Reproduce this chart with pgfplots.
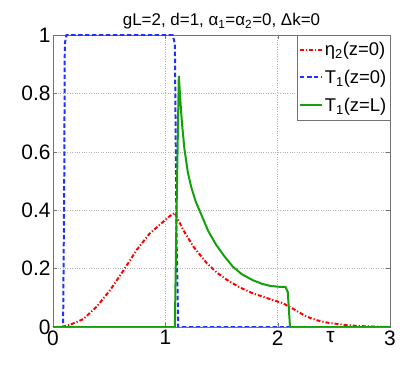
\documentclass[border=0pt]{standalone}
\usepackage{fontspec}
\setmainfont{Liberation Sans}
\usepackage{pgfplots}
\pgfplotsset{compat=1.18}

\definecolor{mred}{RGB}{255,0,0}
\definecolor{mblue}{RGB}{30,50,255}
\definecolor{mgreen}{RGB}{20,160,10}

\begin{document}
\begin{tikzpicture}
\begin{axis}[
  scale only axis,
  width=337bp, height=292bp,
  xmin=0, xmax=3, ymin=0, ymax=1,
  xtick={0,1,2,3},
  ytick={0,0.2,0.4,0.6,0.8,1},
  yticklabels={0,0.2,0.4,0.6,0.8,1},
  /pgf/number format/assume math mode=true,
  tick label style={font=\fontsize{21}{23}\selectfont},
  xticklabel style={yshift=0bp},
  yticklabel style={xshift=1bp},
  tick align=inside,
  major tick length=4bp,
  axis line style={black!55, line width=0.8pt},
  tick style={black!55},
  grid=major,
  grid style={dotted, black!30},
  title={gL=2, d=1, α\textsubscript{1}=α\textsubscript{2}=0, Δk=0},
  title style={font=\fontsize{17}{19}\selectfont, yshift=-4bp},
  xlabel={τ},
  xlabel style={at={(axis cs:2.47,0)}, anchor=north, yshift=-1bp,
    font=\fontsize{21}{23}\selectfont},
  legend style={at={(1,1)}, anchor=north east, draw=black!55,
    font=\fontsize{18.5}{20}\selectfont, row sep=9bp,
    inner xsep=1.5bp, inner ysep=5bp},
  legend cell align=left,
  legend image post style={xscale=1.3},
]
\addplot[mred, line width=2pt, dash pattern=on 4pt off 2pt on 1.2pt off 2pt] coordinates {
(0,0) (0.06,0) (0.1,0.002) (0.167,0.01) (0.27,0.027) (0.39,0.07) (0.51,0.127)
(0.63,0.195) (0.745,0.264) (0.86,0.32) (0.98,0.36) (1.04,0.38) (1.085,0.39)
(1.11,0.37) (1.16,0.332) (1.25,0.275) (1.37,0.218) (1.46,0.186) (1.55,0.161)
(1.66,0.136) (1.78,0.115) (1.92,0.097) (2.05,0.081) (2.1,0.07) (2.14,0.062)
(2.2,0.048) (2.26,0.035) (2.35,0.023) (2.44,0.015) (2.6,0.007) (2.73,0.003)
(2.9,0.001) (3,0)};
\addlegendentry{η\textsubscript{2}(z=0)}
\addplot[mblue, line width=2pt, dash pattern=on 4.5pt off 2.5pt] coordinates {
(0,0) (0.09,0) (0.1,0.5) (0.105,0.97) (0.12,1) (1.065,1) (1.085,0.97)
(1.1,0.3) (1.115,0) (3,0)};
\addlegendentry{T\textsubscript{1}(z=0)}
\addplot[mgreen, line width=2pt] coordinates {
(0,0) (1.085,0) (1.1,0.4) (1.12,0.86) (1.13,0.80) (1.14,0.74) (1.15,0.69)
(1.17,0.61) (1.2,0.53) (1.23,0.48) (1.27,0.43) (1.32,0.385) (1.38,0.33)
(1.45,0.283) (1.52,0.245) (1.6,0.207) (1.68,0.181) (1.78,0.16) (1.86,0.148)
(1.93,0.141) (2.0,0.138) (2.07,0.137) (2.09,0.12) (2.11,0) (3,0)};
\addlegendentry{T\textsubscript{1}(z=L)}
\end{axis}
\path (current axis.south west) ++(-53bp,-40bp) rectangle
  ([xshift=17bp,yshift=35bp]current axis.north east);
\end{tikzpicture}
\end{document}
